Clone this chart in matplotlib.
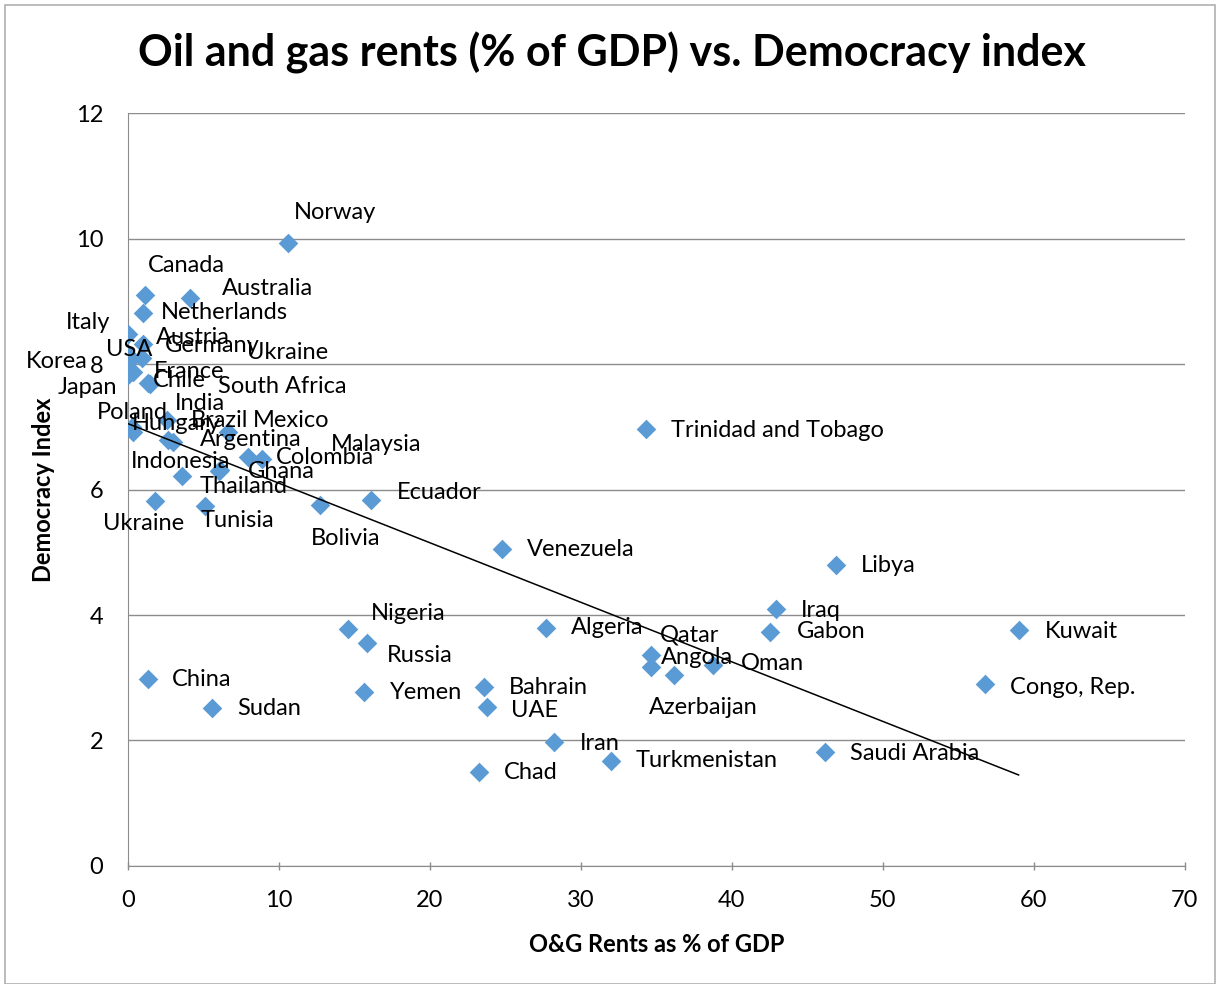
import numpy as np
import matplotlib.pyplot as plt
from matplotlib.patches import Rectangle

plt.rcParams['font.family'] = ['Lato', 'DejaVu Sans']

# data: O&G rents (% of GDP) and democracy index
countries = ["Norway", "Canada", "Australia", "Netherlands", "Italy", "Austria", "USA",
             "Germany", "Ukraine", "Korea", "Japan", "France", "Chile", "South Africa",
             "India", "Poland", "Hungary", "Brazil", "Argentina", "Mexico", "Malaysia",
             "Colombia", "Ghana", "Thailand", "Indonesia", "Ukraine", "Tunisia", "Bolivia",
             "Ecuador", "Trinidad and Tobago", "Venezuela", "Libya", "Iraq", "Gabon",
             "Kuwait", "Congo, Rep.", "Saudi Arabia", "Turkmenistan", "Iran", "Chad",
             "Bahrain", "UAE", "Yemen", "Russia", "Nigeria", "Algeria", "Qatar", "Angola",
             "Azerbaijan", "Oman", "China", "Sudan"]
rents = [10.6, 1.13, 4.1, 0.97, 0.02, 1.0, 0.02,
         0.9, 0.02, 0.02, 0.02, 0.35, 1.46, 1.3,
         2.56, 0.24, 0.35, 2.67, 3.0, 6.64, 7.97,
         8.85, 6.09, 6.0, 3.55, 1.79, 5.1, 12.7,
         16.1, 34.3, 24.77, 46.9, 42.9, 42.5,
         59.0, 56.8, 46.2, 32.0, 28.2, 23.25,
         23.6, 23.8, 15.65, 15.8, 14.59, 27.7, 34.64, 34.64,
         36.2, 38.76, 1.32, 5.56]
democracy = [9.93, 9.10, 9.05, 8.82, 8.48, 8.32, 8.14,
             8.09, 8.04, 7.90, 7.82, 7.88, 7.69, 7.70,
             7.11, 7.00, 6.92, 6.79, 6.76, 6.92, 6.52,
             6.49, 6.31, 6.30, 6.21, 5.82, 5.73, 5.75,
             5.84, 6.96, 5.05, 4.80, 4.10, 3.73,
             3.76, 2.90, 1.82, 1.68, 1.98, 1.49,
             2.86, 2.53, 2.77, 3.56, 3.77, 3.80, 3.36, 3.17,
             3.04, 3.20, 2.98, 2.52]

# label offsets in pixels (left edge / vertical centre of text relative to marker)
label_offsets = [(6, 31), (3, 30), (32, 10), (18, 0), (-63, 11), (13, 7), (-22, 6),
                 (23, 13), (119, 9), (-103, 9), (-71, -12), (20, 0), (3, 3), (70, -4),
                 (8, 16), (-35, 14), (-2, 8), (22, 19), (27, 2), (25, 11), (82, 12),
                 (14, 1), (28, -1), (-19, -16), (-51, 15), (-52, -23), (-4, -14), (-9, -33),
                 (26, 7), (25, -1), (25, 0), (25, -1), (25, -2), (27, 0),
                 (26, -1), (25, -3), (25, -2), (25, 0), (26, -2), (25, 0),
                 (25, -1), (24, -3), (26, 0), (20, -13), (23, 16), (25, 0), (9, 20), (10, 10),
                 (-26, -32), (28, 2), (24, -1), (25, -1)]

fig = plt.figure(figsize=(12.2, 9.84), dpi=100)
fig.patches.append(Rectangle((0.004, 0.0), 0.992, 0.995, transform=fig.transFigure,
                             fill=False, edgecolor='#b0b0b0', linewidth=1.2))
ax = fig.add_axes([0.105, 0.12, 0.866, 0.765])

ax.scatter(rents, democracy, marker='D', s=100, color='#5B9BD5', zorder=3, linewidths=0)

# linear trendline
k, b = np.polyfit(rents, democracy, 1)
xs = np.array([0, max(rents)])
ax.plot(xs, k * xs + b, color='black', linewidth=1.1, zorder=4)

for name, x, y, off in zip(countries, rents, democracy, label_offsets):
    ax.annotate(name, (x, y), xytext=off, textcoords='offset pixels',
                ha='left', va='center', fontsize=17, zorder=5)

ax.set_xlim(0, 70)
ax.set_ylim(0, 12)
ax.set_xticks(range(0, 71, 10))
ax.set_yticks(range(0, 13, 2))
ax.yaxis.grid(True, color='#8c8c8c', linewidth=1.0)
ax.set_axisbelow(True)
for s in ['top', 'right']:
    ax.spines[s].set_visible(False)
for s in ['left', 'bottom']:
    ax.spines[s].set_color('#8c8c8c')
ax.tick_params(axis='both', labelsize=17, color='#8c8c8c', length=6, width=1)
ax.tick_params(axis='x', direction='inout', pad=14)
ax.tick_params(axis='y', direction='in', length=0, pad=18)

ax.set_xlabel("O&G Rents as % of GDP", fontsize=17, fontweight='bold', labelpad=16)
ax.set_ylabel("Democracy Index", fontsize=17, fontweight='bold')
ax.yaxis.set_label_coords(-0.069, 0.5)
fig.suptitle("Oil and gas rents (% of GDP) vs. Democracy index", x=0.502, y=0.968,
             fontsize=31, fontweight='bold')

fig.savefig("out.png", dpi=100)
